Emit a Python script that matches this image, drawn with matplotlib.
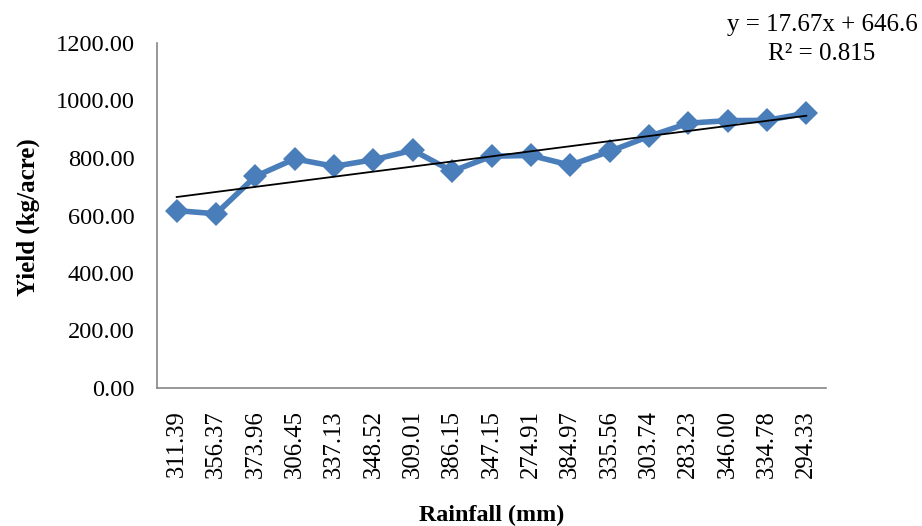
import matplotlib
matplotlib.use("Agg")
import matplotlib.pyplot as plt
import numpy as np

rainfall = ["311.39", "356.37", "373.96", "306.45", "337.13", "348.52", "309.01",
            "386.15", "347.15", "274.91", "384.97", "335.56", "303.74", "283.23",
            "346.00", "334.78", "294.33"]
yield_kg = [617, 606, 736, 797, 771, 794, 827, 754, 806, 809, 775, 823, 875,
            921, 930, 931, 956]
slope, intercept = 17.67, 646.6
r_squared = 0.815

plt.rcParams['font.family'] = ['Liberation Serif', 'DejaVu Serif']

fig = plt.figure(figsize=(9.22, 5.26), dpi=100)
ax = fig.add_axes([157 / 922, 1 - 388 / 526, (826 - 157) / 922, (388 - 43) / 526])

idx = np.arange(1, len(yield_kg) + 1)
ax.plot(idx, yield_kg, color='#4A7EBB', lw=4.0, marker='D', markersize=12,
        markeredgewidth=0, zorder=2)
ax.plot(idx, slope * idx + intercept, color='black', lw=1.3, zorder=3)

ax.set_xlim(0.5, len(idx) + 0.5)
ax.set_ylim(0, 1200)
ax.set_yticks(np.arange(0, 1201, 200))
ax.set_yticklabels([f"{v:.2f}" for v in np.arange(0, 1201, 200)], fontsize=17.6)
ax.set_xticks(idx)
ax.set_xticklabels(rainfall, rotation=90, fontsize=17.8)
ax.tick_params(axis='both', length=0)
ax.tick_params(axis='y', pad=16)
ax.tick_params(axis='x', pad=16)

for s in ['top', 'right']:
    ax.spines[s].set_visible(False)
for s in ['left', 'bottom']:
    ax.spines[s].set_color('#868686')
    ax.spines[s].set_linewidth(1.2)

fig.text(28 / 922, 1 - 217 / 526, "Yield (kg/acre)", rotation=90, fontsize=18,
         fontweight='bold', ha='center', va='center')
fig.text(492 / 922, 1 - 515 / 526, "Rainfall (mm)", fontsize=17.4,
         fontweight='bold', ha='center', va='center')

fig.text(822 / 922, 1 - 25 / 526, f"y = {slope}x + {intercept}", fontsize=18,
         ha='center', va='center')
fig.text(822 / 922, 1 - 54 / 526, f"R² = {r_squared}", fontsize=18,
         ha='center', va='center')

fig.savefig("out.png", dpi=100)
